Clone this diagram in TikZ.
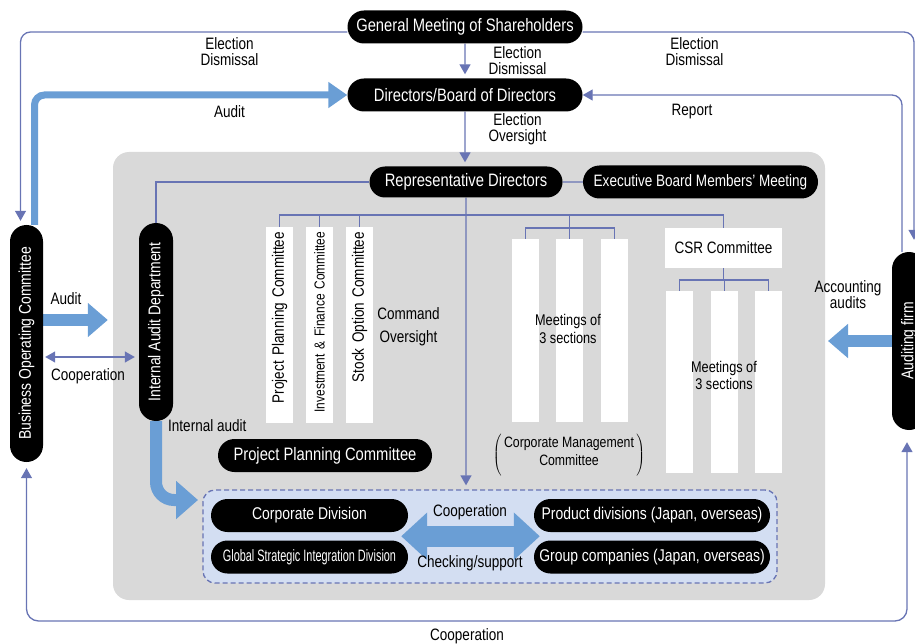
\documentclass[tikz,border=0pt]{standalone}
\usepackage{fontspec}
\setmainfont{Liberation Sans}[FakeStretch=0.82]
\newfontfamily\tightfont{Liberation Sans}[FakeStretch=0.66]
\usetikzlibrary{arrows.meta,shapes.misc,calc}

\definecolor{linkblue}{HTML}{6874B4}
\definecolor{fatblue}{HTML}{6A9ED5}
\definecolor{panelgray}{HTML}{D9D9D9}
\definecolor{opsfill}{HTML}{D3DEF2}

\pgfdeclarelayer{back}
\pgfsetlayers{back,main}

\tikzset{
  pill/.style={rounded rectangle, fill=black, text=white, inner sep=0pt,
    minimum height=33pt, font=\fontsize{18}{20}\selectfont},
  vpill/.style={pill, rotate=90, minimum height=34pt, font=\fontsize{17}{19}\selectfont},
  slot/.style={fill=white, inner sep=0pt},
  vslot/.style={slot, rotate=90, minimum height=27pt, inner xsep=5pt,
    text width=186pt, align=right, font=\fontsize{16.5}{18}\selectfont},
  note/.style={font=\fontsize{16.5}{16}\selectfont, align=center, inner sep=0pt},
  link/.style={draw=linkblue, line width=1.3pt},
  headed/.style={-{Triangle[length=10pt,width=11pt]}},
  twoheaded/.style={{Triangle[length=10pt,width=11pt]}-{Triangle[length=10pt,width=11pt]}},
  fat/.style={draw=fatblue, line width=12pt},
  opsbox/.style={draw=linkblue, fill=opsfill, line width=1.3pt,
    dash pattern=on 5pt off 3pt, rounded corners=12pt}
}

\begin{document}
\begin{tikzpicture}[x=1pt,y=-1pt]
\useasboundingbox (0,0) rectangle (915,644);

% grey panel
\begin{pgfonlayer}{back}
  \fill[panelgray, rounded corners=16pt] (113,152) rectangle (825,600);
\end{pgfonlayer}

% top
\node[pill, minimum width=235pt] (gms) at (465,27) {General Meeting of Shareholders};
\node[pill, minimum width=235pt] (board) at (465,95) {Directors/Board of Directors};
\node[pill, minimum width=193pt, minimum height=31pt] (rep) at (466,182) {Representative Directors};
\node[pill, minimum width=235pt, font=\fontsize{16.5}{18}\selectfont] (exec) at (700.5,182) {Executive Board Members' Meeting};

% sides
\node[vpill, minimum width=237pt, minimum height=33pt] (boc) at (26.5,343.5) {Business Operating Committee};
\node[vpill, minimum width=198pt] (iad) at (156,322) {Internal Audit Department};
\node[vpill, minimum width=178pt] (firm) at (909,341) {Auditing firm};

% committees
\node[vslot] (ppc) at (279.5,325) {Project Planning Committee};
\node[vslot, font=\fontsize{14.5}{17}\selectfont] (ifc) at (319.5,325) {\mbox{Investment \& Finance Committee}};
\node[vslot] (soc) at (359.5,325) {Stock Option Committee};
\node[note, font=\fontsize{16.5}{23}\selectfont] (cmd) at (408.5,326.5) {Command\\Oversight};

% corporate management committee
\foreach \n/\x in {cmA/525.5, cmB/569.5, cmC/614.5}
  \node[slot, minimum width=27pt, minimum height=183pt] (\n) at (\x,330.5) {};
\node[note, font=\fontsize{15.5}{18}\selectfont] (cmText) at (568,329) {Meetings of\\3 sections};
\node[note, font=\fontsize{15}{18}\selectfont] (cmc) at (569,455)
  {$\left(\,\vcenter{\hbox{\rule[-19pt]{0pt}{38pt}\begin{tabular}{@{}c@{}}Corporate Management\\Committee\end{tabular}}}\,\right)$};

% CSR committee
\node[slot, minimum width=117pt, minimum height=40pt, font=\fontsize{16.5}{18}\selectfont] (csr) at (723.5,248) {CSR Committee};
\foreach \n/\x in {csA/679.5, csB/724.5, csC/768.5}
  \node[slot, minimum width=27pt, minimum height=182pt] (\n) at (\x,382) {};
\node[note, font=\fontsize{15.5}{17}\selectfont] (csText) at (724,375.5) {Meetings of\\3 sections};

% lower part
\node[pill, minimum width=214pt] (ppcp) at (325,455.5) {Project Planning Committee};
\node[opsbox, minimum width=574pt, minimum height=93pt] (ops) at (490,536.5) {};
\node[pill, minimum width=197pt, font=\fontsize{17}{19}\selectfont] (cdiv) at (309.5,515.5) {Corporate Division};
\node[pill, minimum width=197pt, font=\tightfont\fontsize{16.5}{18}\selectfont] (gsid) at (309.5,557) {Global Strategic Integration Division};
\node[pill, minimum width=236pt, font=\fontsize{17}{19}\selectfont] (pdiv) at (652,515.5) {Product divisions (Japan, overseas)};
\node[pill, minimum width=236pt, font=\fontsize{17}{19}\selectfont] (grp) at (652,557) {Group companies (Japan, overseas)};

\draw[fatblue, line width=21pt, {Triangle[length=26pt,width=46pt]}-{Triangle[length=26pt,width=46pt]},
  shorten <=-7pt, shorten >=-6pt]
  ($(cdiv.east)!0.5!(gsid.east)$) -- ($(pdiv.west)!0.5!(grp.west)$);

\coordinate (iaTip) at (198,500);
\coordinate (faTip) at (828,341);

% connectors
\begin{pgfonlayer}{back}
  \draw[link, headed, shorten >=4pt] (gms) -- (board);
  \draw[link, headed, shorten >=4pt] (board) -- (board |- rep.north);
  \draw[link, headed, rounded corners=10pt, shorten >=4pt] ([yshift=-5pt]gms.west) -| ([xshift=-6pt]boc.east);
  \draw[link, headed, rounded corners=10pt, shorten >=12pt] ([yshift=-5pt]gms.east) -| ([xshift=5pt]firm.east);
  \draw[link, headed, rounded corners=10pt] ([xshift=-7pt]firm.east) |- (board.east);
  \draw[fat, line width=7pt, -{Triangle[length=19pt,width=25pt]}, rounded corners=10pt] ([xshift=8pt]boc.east) |- (board.west);

  \draw[link] (rep) -- (exec);
  \draw[link] (rep.west) -| (iad.east);
  \draw[link, headed, shorten >=4pt] (rep) -- (rep |- ops.north);

  \draw[link] (ppc.east) -- (ppc.east |- 0,215) -| (csr.north);
  \foreach \n in {ifc,soc}
    \draw[link] (\n.east) -- (\n.east |- 0,215);
  \draw[link] (cmA.north) -- (cmA.north |- 0,228) -| (cmC.north);
  \draw[link] (cmB.north) -- (cmB.north |- 0,215);
  \draw[link] (csr.south) -- (csr.south |- 0,280);
  \draw[link] (csA.north) -- (csA.north |- 0,280) -| (csC.north);
  \draw[link] (csB.north) -- (csB.north |- 0,280);

  \draw[fat, -{Triangle[length=20pt,width=33pt]}, shorten >=31pt] (boc.south |- 0,320) -- (iad.north |- 0,320);
  \draw[link, twoheaded, shorten <=2pt, shorten >=4pt] (boc.south |- 0,357) -- (iad.north |- 0,357);
  \draw[fat, -{Triangle[length=22pt,width=37pt]}, rounded corners=18pt] (iad.west) |- (iaTip);
  \draw[fat, -{Triangle[length=20pt,width=33pt]}] (firm.north) -- (faTip);

  \draw[link, twoheaded, rounded corners=12pt, shorten <=6pt, shorten >=12pt]
    (boc.west) -- (boc.west |- 0,621) -| ([xshift=-2pt]firm.west);
\end{pgfonlayer}

% labels
\node[note] (lElec) at (229.5,51.5) {Election\\Dismissal};
\node[note] (rElec) at (694.5,51.5) {Election\\Dismissal};
\node[note] (mElec) at (517.5,61) {Election\\Dismissal};
\node[note] (mOver) at (517.5,129) {Election\\Oversight};
\node[note] (topAudit) at (229.5,112) {Audit};
\node[note] (report) at (692,112) {Report};
\node[note] (sideAudit) at (66,299) {Audit};
\node[note] (sideCoop) at (88,376) {Cooperation};
\node[note, anchor=west] (iaTxt) at (168,425.5) {Internal audit};
\node[note] (accTxt) at (848,295) {Accounting\\audits};
\node[note] (coopTxt) at (470,512) {Cooperation};
\node[note] (chkTxt) at (470,563) {Checking/support};
\node[note] (btmCoop) at (467,636) {Cooperation};

\end{tikzpicture}
\end{document}
